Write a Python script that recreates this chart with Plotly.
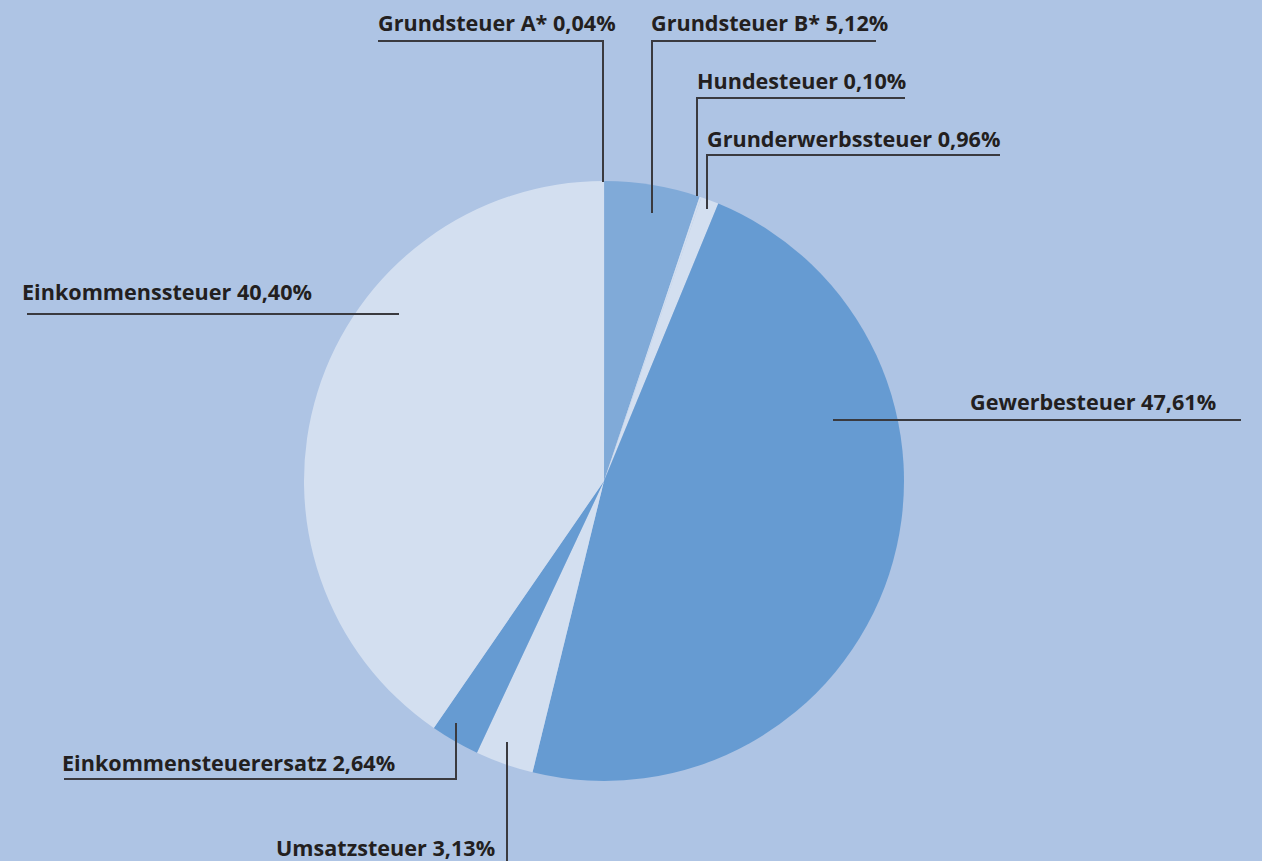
import plotly.graph_objects as go

# Data
categories = ["Grundsteuer A*", "Grundsteuer B*", "Hundesteuer", "Grunderwerbssteuer",
              "Gewerbesteuer", "Umsatzsteuer", "Einkommensteuerersatz", "Einkommenssteuer"]
values = [0.04, 5.12, 0.10, 0.96, 47.61, 3.13, 2.64, 40.40]
value_labels = ["0,04%", "5,12%", "0,10%", "0,96%", "47,61%", "3,13%", "2,64%", "40,40%"]

LIGHT = "#d3dff0"
MED = "#80aad8"
DARK = "#669bd2"
colors = [MED, MED, LIGHT, LIGHT, DARK, LIGHT, DARK, LIGHT]

W, H = 1262, 861
CX, CY, R = 604, 481, 300
BG = "#aec4e4"
LINE = "#3a3a3f"
TXT = "#231f20"

fig = go.Figure()
fig.add_trace(go.Pie(
    values=values, labels=categories, sort=False, direction="clockwise", rotation=0,
    marker=dict(colors=colors, line=dict(width=0)),
    textinfo="none", hoverinfo="label+percent", showlegend=False,
    domain=dict(x=[(CX - R) / W, (CX + R) / W], y=[(H - CY - R) / H, (H - CY + R) / H]),
))

# label layout: (text x-left, text y-center, polyline points)
layout_pos = [
    (376, 22, [(378, 41), (603, 41), (603, 182)]),
    (649, 22, [(876, 41), (652, 41), (652, 213)]),
    (695, 80, [(905, 98), (697, 98), (697, 196)]),
    (705, 138, [(1000, 155), (707, 155), (707, 209)]),
    (968, 401, [(1241, 420), (833, 420)]),
    (274, 847, [(507, 742), (507, 861)]),
    (60, 762, [(64, 779), (456, 779), (456, 723)]),
    (20, 291, [(27, 314), (399, 314)]),
]

for cat, lab, (tx, ty, pts) in zip(categories, value_labels, layout_pos):
    fig.add_annotation(x=tx, y=ty, xref="x", yref="y", text=f"{cat} {lab}",
                       showarrow=False, xanchor="left", yanchor="middle",
                       font=dict(family="Open Sans", size=21.6, color=TXT, weight="bold"))
    path = "M " + " L ".join(f"{px},{py}" for px, py in pts)
    fig.add_shape(type="path", path=path, xref="x", yref="y",
                  line=dict(color=LINE, width=2), layer="above")

fig.update_layout(
    width=W, height=H, margin=dict(l=0, r=0, t=0, b=0),
    paper_bgcolor=BG, plot_bgcolor=BG,
    xaxis=dict(range=[0, W], visible=False, fixedrange=True),
    yaxis=dict(range=[H, 0], visible=False, fixedrange=True),
)
fig.write_html("out.html", config={"displayModeBar": False},
               post_script="document.body.style.margin='0';document.body.style.background='#aec4e4';document.body.style.overflow='hidden';")
